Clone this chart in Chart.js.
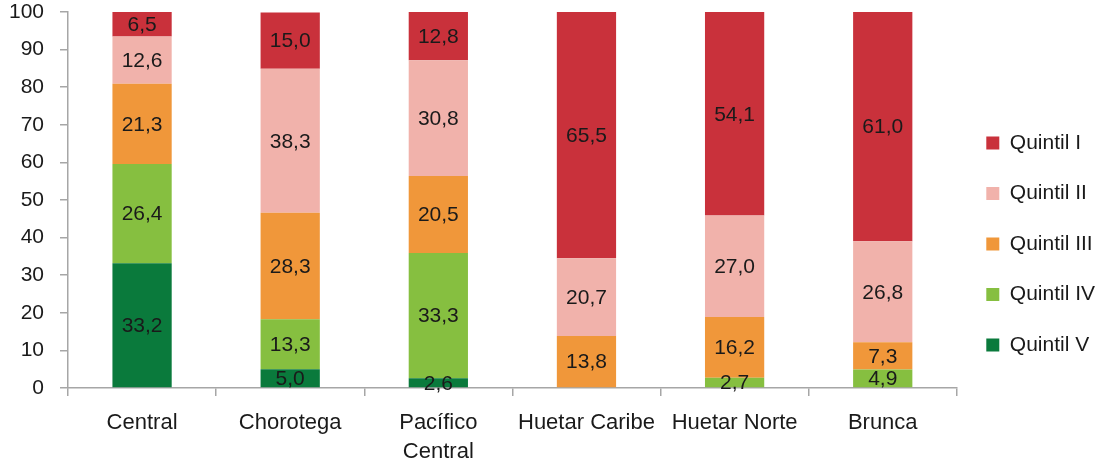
<!DOCTYPE html>
<html lang="es">

<head>
    <meta charset="UTF-8">
    <title>Quintiles por región</title>
    <style>
        body { margin: 0; background: #fff; }
        .chartBox { width: 1105px; height: 466px; }
    </style>
</head>

<body>
    <div class="chartBox">
        <canvas id="quintilChart"></canvas>
    </div>
</body>
<script src="https://cdn.jsdelivr.net/npm/chart.js"></script>
<script>
    // regiones y porcentaje de hogares por quintil
    const regions = ['Central', 'Chorotega', ['Pacífico', 'Central'], 'Huetar Caribe', 'Huetar Norte', 'Brunca'];
    const quintilI = [6.5, 15.0, 12.8, 65.5, 54.1, 61.0];
    const quintilII = [12.6, 38.3, 30.8, 20.7, 27.0, 26.8];
    const quintilIII = [21.3, 28.3, 20.5, 13.8, 16.2, 7.3];
    const quintilIV = [26.4, 13.3, 33.3, 0, 2.7, 4.9];
    const quintilV = [33.2, 5.0, 2.6, 0, 0, 0];
    const yMin = 0, yMax = 100, yStep = 10;

    const axisGray = '#a6a6a6';
    const textColor = '#1a1a1a';

    // etiquetas de valor dentro de cada segmento (formato 12,6)
    const valueLabels = {
        id: 'valueLabels',
        afterDatasetsDraw(chart) {
            const ctx = chart.ctx;
            ctx.save();
            ctx.font = '21px "Liberation Sans", Arial, sans-serif';
            ctx.fillStyle = textColor;
            ctx.textAlign = 'center';
            ctx.textBaseline = 'middle';
            chart.data.datasets.forEach((ds, i) => {
                const meta = chart.getDatasetMeta(i);
                meta.data.forEach((bar, j) => {
                    const v = ds.data[j];
                    if (!v) return;
                    ctx.fillText(v.toFixed(1).replace('.', ','), bar.x, (bar.y + bar.base) / 2 + 1);
                });
            });
            ctx.restore();
        }
    };

    const ctx = document.getElementById('quintilChart').getContext('2d');
    const quintilChart = new Chart(ctx, {
        type: 'bar',
        data: {
            labels: regions,
            datasets: [
                { label: 'Quintil V', data: quintilV, backgroundColor: '#0a7a3c' },
                { label: 'Quintil IV', data: quintilIV, backgroundColor: '#86bf40' },
                { label: 'Quintil III', data: quintilIII, backgroundColor: '#f0973a' },
                { label: 'Quintil II', data: quintilII, backgroundColor: '#f1b2ab' },
                { label: 'Quintil I', data: quintilI, backgroundColor: '#c9313b' }
            ]
        },
        options: {
            responsive: true,
            maintainAspectRatio: false,
            animation: false,
            categoryPercentage: 1,
            barPercentage: 0.4,
            layout: { padding: { left: 10, top: 0, right: 0, bottom: 0 } },
            font: { family: '"Liberation Sans", Arial, sans-serif' },
            scales: {
                x: {
                    stacked: true,
                    border: { color: axisGray, width: 1.5 },
                    grid: { drawOnChartArea: false, drawTicks: true, tickLength: 8, color: axisGray, lineWidth: 1.5 },
                    ticks: {
                        color: textColor,
                        padding: 12,
                        maxRotation: 0,
                        font: { size: 22, lineHeight: 1.32 }
                    },
                    afterFit(scale) {
                        scale.paddingLeft = 0;
                        scale.paddingRight = 0;
                        scale.height = 78;
                    }
                },
                y: {
                    stacked: true,
                    min: yMin,
                    max: yMax,
                    border: { color: axisGray, width: 1.5 },
                    grid: { drawOnChartArea: false, drawTicks: true, tickLength: 8, color: axisGray, lineWidth: 1.5 },
                    ticks: {
                        stepSize: yStep,
                        color: textColor,
                        padding: 16,
                        font: { size: 21 }
                    },
                    afterFit(scale) {
                        scale.paddingTop = 12;
                        scale.paddingBottom = 0;
                        scale.width = 58;
                    }
                }
            },
            plugins: {
                tooltip: { enabled: false },
                legend: {
                    position: 'right',
                    reverse: true,
                    title: { display: true, text: '', font: { size: 10 }, padding: 5 },
                    labels: {
                        boxWidth: 13,
                        boxHeight: 13,
                        padding: 29.5,
                        color: textColor,
                        font: { size: 21 }
                    }
                }
            }
        },
        plugins: [valueLabels]
    });
</script>

</html>
